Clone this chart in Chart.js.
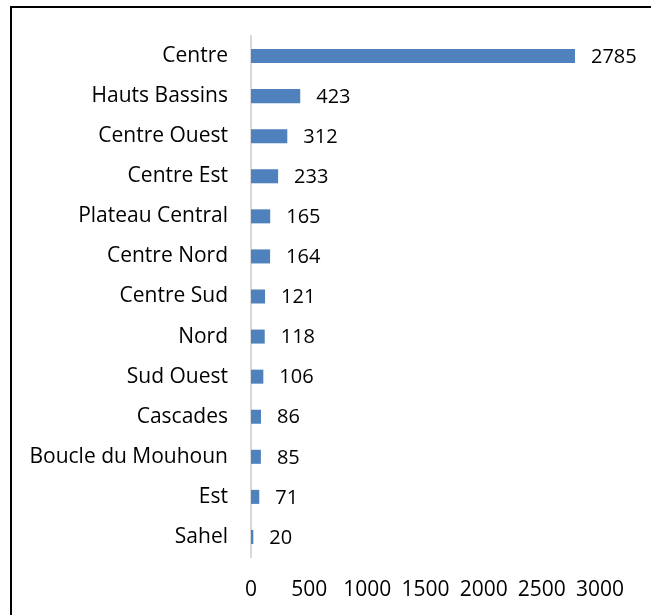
<!DOCTYPE html>
<html>
<head>
<meta charset="utf-8">
<script src="https://cdn.jsdelivr.net/npm/chart.js@4/dist/chart.umd.min.js"></script>
<style>
  html, body { margin: 0; padding: 0; background: #fff; }
  #wrap { position: relative; width: 651px; height: 615px; overflow: hidden; }
  #frame { position: absolute; left: 10px; top: 6px; width: 700px; height: 700px; border-left: 2px solid #000; border-top: 2px solid #000; box-sizing: border-box; }
  canvas { position: absolute; left: 0; top: 0; }
</style>
</head>
<body>
<div id="wrap">
  <div id="frame"></div>
  <canvas id="c" width="651" height="615"></canvas>
</div>
<script>
const categories = ["Centre", "Hauts Bassins", "Centre Ouest", "Centre Est", "Plateau Central", "Centre Nord", "Centre Sud", "Nord", "Sud Ouest", "Cascades", "Boucle du Mouhoun", "Est", "Sahel"];
const values = [2785, 423, 312, 233, 165, 164, 121, 118, 106, 86, 85, 71, 20];
const xTicks = [0, 500, 1000, 1500, 2000, 2500, 3000];

const FONT = "'Open Sans', sans-serif";

const valueLabels = {
  id: 'valueLabels',
  afterDatasetsDraw(chart) {
    const ctx = chart.ctx;
    const meta = chart.getDatasetMeta(0);
    ctx.save();
    ctx.font = "20px " + FONT;
    ctx.fillStyle = "#000";
    ctx.textAlign = "left";
    ctx.textBaseline = "middle";
    meta.data.forEach((bar, i) => {
      ctx.fillText(String(values[i]), bar.x + 16, bar.y + 1);
    });
    ctx.restore();
  }
};

new Chart(document.getElementById('c'), {
  type: 'bar',
  data: {
    labels: categories,
    datasets: [{
      data: values,
      backgroundColor: '#4f81bd',
      borderWidth: 0,
      categoryPercentage: 1,
      barPercentage: 0.35
    }]
  },
  options: {
    indexAxis: 'y',
    responsive: false,
    animation: false,
    events: [],
    layout: { padding: { top: 36, right: 51, bottom: 14, left: 0 } },
    plugins: { legend: { display: false }, tooltip: { enabled: false } },
    scales: {
      x: {
        min: 0, max: 3000,
        afterBuildTicks(scale) { scale.ticks = xTicks.map(v => ({ value: v })); },
        afterFit(scale) { scale.height = 44; },
        grid: { display: false, drawTicks: false },
        border: { display: false },
        ticks: { color: '#000', padding: 20, maxRotation: 0, autoSkip: false,
                 callback: (v) => String(v), font: { family: FONT, size: 21 } }
      },
      y: {
        grid: { display: false, drawTicks: false },
        border: { display: true, color: '#d9d9d9', width: 2 },
        afterFit(scale) { scale.width = 251; },
        ticks: { color: '#000', padding: 23, autoSkip: false, font: { family: FONT, size: 21 } }
      }
    }
  },
  plugins: [valueLabels]
});
</script>
</body>
</html>
